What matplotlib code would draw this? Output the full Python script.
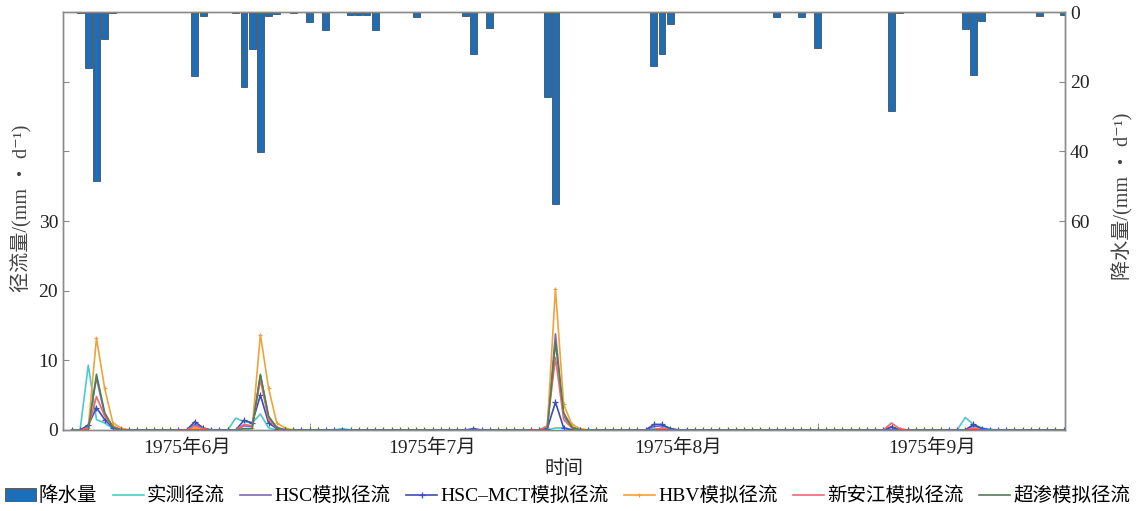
import matplotlib
matplotlib.use("Agg")
import matplotlib.pyplot as plt
import matplotlib.dates as mdates
from matplotlib.ticker import FixedLocator, FuncFormatter
import numpy as np
import pandas as pd

plt.rcParams['font.family'] = ['Liberation Serif', 'Noto Sans CJK SC', 'DejaVu Serif']

# ---------------- data ----------------
dates = pd.date_range('1975-06-01', '1975-09-30', freq='D')   # 122 days

# daily precipitation (mm/d); day index -> value
precip_days = [1, 2, 3, 4, 5, 15, 16, 20, 21, 22, 23, 24, 25, 27, 29, 31, 34, 35, 36, 37,
               42, 48, 49, 51, 58, 59, 71, 72, 73, 86, 89, 91, 100, 101, 109, 110, 111, 118, 121]
precip_vals = [0.3, 16.0, 48.5, 7.7, 0.3, 18.3, 1.1, 0.3, 21.5, 10.6, 40.2, 1.1, 0.7, 0.3, 3.0, 5.3, 0.8, 0.8, 0.8, 5.3,
               1.3, 1.1, 12.1, 4.7, 24.5, 55.0, 15.5, 12.0, 3.5, 1.5, 1.3, 10.3, 28.5, 0.3, 5.0, 18.0, 2.5, 1.2, 1.0]

# runoff series (mm/d); day index -> value
obs_days = [2, 3, 4, 5, 20, 21, 22, 23, 24, 33, 59, 60, 61, 71, 72, 109, 110, 111, 112]
obs_vals = [9.3, 1.5, 1.0, 0.2, 1.7, 1.2, 1.0, 2.3, 0.3, 0.2, 0.3, 0.3, 0.1, 0.2, 0.2, 1.8, 0.8, 0.3, 0.1]

hsc_days = [2, 3, 4, 5, 6, 15, 16, 21, 22, 23, 24, 25, 58, 59, 60, 61, 71, 72, 73, 100, 110, 111]
hsc_vals = [0.5, 7.5, 2.2, 0.5, 0.1, 0.8, 0.2, 0.6, 0.5, 7.8, 1.8, 0.4, 0.3, 13.8, 2.0, 0.4, 0.5, 0.6, 0.2, 0.5, 0.6, 0.2]

mct_days = [2, 3, 4, 5, 15, 16, 21, 22, 23, 24, 25, 49, 58, 59, 60, 71, 72, 73, 100, 110, 111]
mct_vals = [0.7, 3.2, 1.5, 0.3, 1.2, 0.3, 1.4, 1.0, 5.0, 1.0, 0.2, 0.2, 0.2, 4.0, 0.3, 0.8, 0.8, 0.2, 0.4, 0.8, 0.2]

hbv_days = [2, 3, 4, 5, 6, 15, 22, 23, 24, 25, 26, 58, 59, 60, 61, 62, 72, 110]
hbv_vals = [0.3, 13.2, 6.0, 1.0, 0.3, 0.3, 0.3, 13.7, 6.0, 1.0, 0.3, 0.4, 20.3, 3.7, 0.8, 0.2, 0.2, 0.2]

xaj_days = [2, 3, 4, 5, 15, 16, 21, 22, 23, 24, 25, 58, 59, 60, 61, 72, 100, 101, 110]
xaj_vals = [0.3, 4.8, 2.0, 0.5, 0.6, 0.2, 0.8, 0.6, 7.2, 1.5, 0.3, 0.6, 10.4, 1.5, 0.3, 0.3, 1.0, 0.2, 0.3]

cs_days = [3, 4, 5, 21, 22, 23, 24, 25, 59, 60, 61]
cs_vals = [8.0, 2.5, 0.4, 0.2, 0.2, 8.0, 2.0, 0.3, 12.6, 2.5, 0.4]

labels = ['降水量', '实测径流', 'HSC模拟径流', 'HSC–MCT模拟径流', 'HBV模拟径流', '新安江模拟径流', '超渗模拟径流']
month_label_dates = ['1975-06-15', '1975-07-15', '1975-08-14', '1975-09-14']


def full(days, vals):
    s = pd.Series(0.0, index=dates)
    s.iloc[days] = vals
    return s


precip = full(precip_days, precip_vals)
obs = full(obs_days, obs_vals)
hsc = full(hsc_days, hsc_vals)
mct = full(mct_days, mct_vals)
hbv = full(hbv_days, hbv_vals)
xaj = full(xaj_days, xaj_vals)
cs = full(cs_days, cs_vals)

# ---------------- figure ----------------
W, H = 1137, 511
fig = plt.figure(figsize=(W / 100, H / 100), dpi=100)
ax1 = fig.add_axes([63 / W, 1 - 430 / H, (1065 - 63) / W, (430 - 12) / H])
ax2 = ax1.twinx()

spine_col = '#8a8a8a'
lw = 1.2
l_obs, = ax1.plot(dates, obs.values, color='#4cc9d0', lw=lw, zorder=3)
l_hsc, = ax1.plot(dates, hsc.values, color='#8466b4', lw=lw, zorder=3)
l_mct, = ax1.plot(dates, mct.values, color='#3b4fb8', lw=lw, marker='+', ms=5, mew=0.9, zorder=4)
l_hbv, = ax1.plot(dates, hbv.values, color='#eea43c', lw=lw, marker='+', ms=3.5, mew=0.8, zorder=3)
l_xaj, = ax1.plot(dates, xaj.values, color='#ef6a6a', lw=lw, zorder=4)
l_cs, = ax1.plot(dates, cs.values, color='#4f7f55', lw=lw, zorder=4)

bars = ax2.bar(dates, precip.values, width=0.85, color='#1f6db5', edgecolor='#3a3a3a', linewidth=0.5)

ax1.set_xlim(dates[0] - pd.Timedelta(hours=26), dates[-1] + pd.Timedelta(hours=4))
ax1.set_ylim(0, 60)
ax2.set_ylim(120, 0)

ax1.set_yticks([0, 10, 20, 30, 40, 50])
ax1.set_yticklabels(['0', '10', '20', '30', '', ''])
ax2.set_yticks([0, 20, 40, 60])

ax1.xaxis.set_major_locator(FixedLocator(mdates.date2num(pd.to_datetime(month_label_dates))))
ax1.xaxis.set_major_formatter(FuncFormatter(
    lambda x, pos: f"{mdates.num2date(x).year}年{mdates.num2date(x).month}月"))
ax1.xaxis.set_minor_locator(FixedLocator(mdates.date2num(
    [pd.Timestamp('1975-06-30'), pd.Timestamp('1975-08-31')])))

for ax in (ax1, ax2):
    for sp in ax.spines.values():
        sp.set_color(spine_col)
        sp.set_linewidth(1.0)
    ax.tick_params(axis='both', which='both', direction='in', colors=spine_col,
                   labelcolor='#222222', labelsize=14, length=4)
ax1.tick_params(axis='x', which='major', length=0, pad=6)
ax1.tick_params(axis='x', which='minor', length=5)

ax1.set_xlabel('时间', fontsize=14, color='#222222', labelpad=2)
ax1.set_ylabel('径流量/(mm ・ d⁻¹)', fontsize=14.5, color='#444444')
ax1.yaxis.set_label_coords(-0.031, 0.53)
ax2.set_ylabel('降水量/(mm ・ d⁻¹)', fontsize=14.5, color='#444444', rotation=90)
ax2.yaxis.set_label_coords(1.047, 0.56)

handles = [bars, l_obs, l_hsc, l_mct, l_hbv, l_xaj, l_cs]
fig.legend(handles, labels, loc='center', bbox_to_anchor=(0.499, 1 - 496 / H), ncol=7,
           frameon=False, fontsize=14, handlelength=1.6, handletextpad=0.15,
           columnspacing=0.8, borderaxespad=0)

fig.savefig('out.png', dpi=100)
